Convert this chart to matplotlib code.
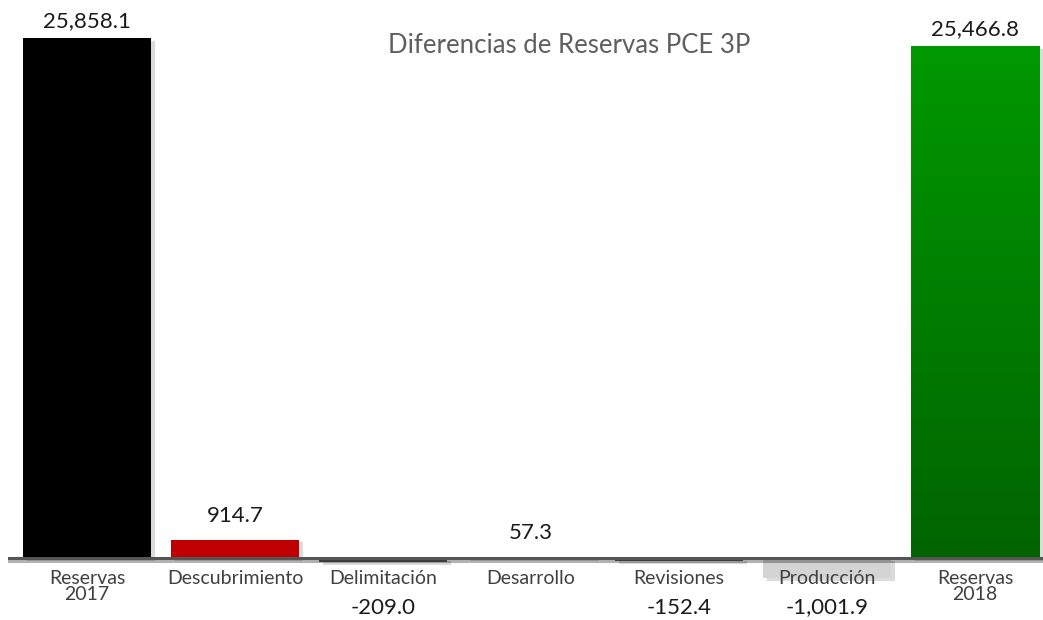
import numpy as np
import matplotlib
matplotlib.use("Agg")
import matplotlib.pyplot as plt
import matplotlib.patheffects as pe
from matplotlib.colors import LinearSegmentedColormap

plt.rcParams['font.family'] = ['Lato', 'DejaVu Sans']

categorias = ["Reservas\n2017", "Descubrimiento", "Delimitación", "Desarrollo",
              "Revisiones", "Producción", "Reservas\n2018"]
valores = [25858.1, 914.7, -209.0, 57.3, -152.4, -1001.9, 25466.8]
etiquetas = ["25,858.1", "914.7", "-209.0", "57.3", "-152.4", "-1,001.9", "25,466.8"]
colores = ["#000000", "#c00000", "#595959", "#d0d0d0", "#5a5a5a", "#d4d4d4", "#008a00"]

fig = plt.figure(figsize=(10.43, 6.2), dpi=100)
ax = fig.add_axes([0, 0, 1, 1])
ax.set_xlim(-0.588, 6.459)
ax.set_ylim(-3083, 27748)
ax.axis("off")

x = np.arange(len(valores))
sombra = [pe.SimplePatchShadow(offset=(3, -2), shadow_rgbFace="#888888", alpha=0.3), pe.Normal()]
barras = ax.bar(x, valores, width=0.865, color=colores, zorder=2)
for b in barras:
    b.set_path_effects(sombra)

# degradado verde para Reservas 2018
verde = LinearSegmentedColormap.from_list("verde", ["#006400", "#009900"])
ult = barras[-1]
grad = np.linspace(0, 1, 256).reshape(-1, 1)
img = ax.imshow(grad, cmap=verde, origin="lower", aspect="auto", zorder=3,
                extent=(ult.get_x(), ult.get_x() + ult.get_width(), 0, ult.get_height()))
img.set_clip_path(ult)

# linea base
ax.plot([-0.53, 6.459], [0, 0], color="#555555", lw=2.2, zorder=4,
        path_effects=[pe.SimpleLineShadow(offset=(0, -2), alpha=0.3), pe.Normal()])

for xi, cat, v, et in zip(x, categorias, valores, etiquetas):
    ax.annotate(cat, (xi, 0), xytext=(0, -8.5), textcoords="offset points",
                ha="center", va="top", fontsize=14, color="#404040",
                linespacing=0.92, zorder=5)
    if v >= 0:
        # las barras altas tienen poco espacio arriba
        dy = 5 if v > 20000 else 10
        ax.annotate(et, (xi, v), xytext=(0, dy), textcoords="offset points",
                    ha="center", va="bottom", fontsize=16, color="#1a1a1a", zorder=5)
    else:
        ax.annotate(et, (xi, 0), xytext=(0, -28.5), textcoords="offset points",
                    ha="center", va="top", fontsize=16, color="#1a1a1a", zorder=5)

ax.text(0.546, 0.927, "Diferencias de Reservas PCE 3P", transform=ax.transAxes,
        ha="center", va="center", fontsize=18.5, color="#5f5f5f")

fig.savefig("out.png", dpi=100, facecolor="white")
